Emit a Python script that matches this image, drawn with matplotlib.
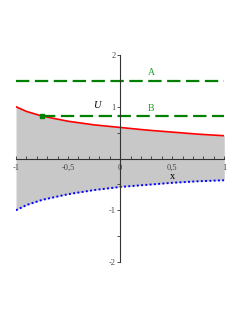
import matplotlib
matplotlib.use('Agg')
import matplotlib.pyplot as plt
from matplotlib.ticker import FixedLocator, MultipleLocator

# values
xs = [-1, -0.9, -0.75, -0.5, -0.25, 0, 0.25, 0.5, 0.75, 1]
upper = [1.0, 0.91, 0.82, 0.72, 0.65, 0.6, 0.55, 0.51, 0.47, 0.44]
lower = [-1.0, -0.9, -0.8, -0.69, -0.61, -0.55, -0.51, -0.47, -0.44, -0.42]
level_a = 1.5
level_b = 0.82
b_start = -0.75
xticks = [-1, -0.5, 0, 0.5, 1]
xtick_labels = ['-1', '-0,5', '0', '0,5', '1']
yticks = [-2, -1, 1, 2]
ytick_labels = ['-2', '-1', '1', '2']

plt.rcParams['font.family'] = 'Liberation Serif'

fig = plt.figure(figsize=(2.45, 3.17), dpi=100)
ax = fig.add_axes([0.0653, 0.1735, 0.85, 0.653])
ax.set_xlim(-1, 1)
ax.set_ylim(-2, 2)

ax.fill_between(xs, lower, upper, color='#c8c8c8', lw=0)
ax.plot(xs, upper, color='red', lw=1.2)
ax.plot(xs, lower, color='blue', lw=1.4, ls=(0, (1, 1.2)))
ax.plot([-1, 1], [level_a, level_a], color='#008000', lw=1.6, ls=(0, (6, 2.5)))
ax.plot([b_start, 1], [level_b, level_b], color='#008000', lw=1.6, ls=(0, (6, 2.5)))
ax.plot([b_start], [level_b], 's', color='#008000', ms=2.5)

ax.text(0.3, 1.66, 'A', color='#22a022', fontsize=7, ha='center', va='center')
ax.text(0.3, 0.97, 'B', color='#22a022', fontsize=7, ha='center', va='center')
ax.text(-0.22, 1.02, 'U', fontsize=7.5, style='italic', ha='center', va='center')
ax.text(0.5, -0.35, 'x', fontsize=7.5, ha='center', va='center')

for s in ['top', 'right']:
    ax.spines[s].set_visible(False)
ax.spines['left'].set_position(('data', 0))
ax.spines['bottom'].set_position(('data', 0))
ax.spines['left'].set_color('#333333')
ax.spines['bottom'].set_color('#333333')
ax.spines['left'].set_linewidth(0.8)
ax.spines['bottom'].set_linewidth(0.8)

ax.xaxis.set_major_locator(FixedLocator(xticks))
ax.set_xticklabels(xtick_labels)
ax.xaxis.set_minor_locator(MultipleLocator(0.1))
ax.yaxis.set_major_locator(FixedLocator(yticks))
ax.set_yticklabels(ytick_labels)
ax.yaxis.set_minor_locator(MultipleLocator(0.5))
ax.tick_params(axis='x', which='both', direction='in', length=2, width=0.6,
               color='#333333', labelsize=6, labelcolor='#444444', pad=4)
ax.tick_params(axis='y', which='both', direction='out', length=2, width=0.6,
               color='#333333', labelsize=6, labelcolor='#444444', pad=1)
ax.patch.set_visible(False)

fig.savefig('out.png', dpi=100)
